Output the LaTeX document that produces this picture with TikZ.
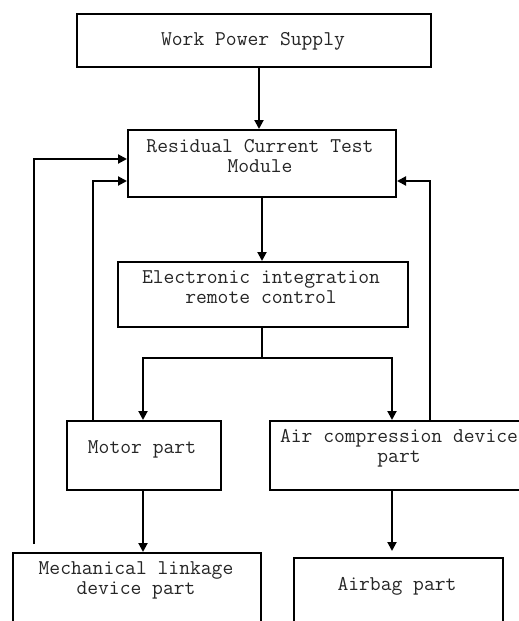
\documentclass[tikz,border=0pt]{standalone}
\usepackage{fontspec}
\usetikzlibrary{arrows.meta}
\newcommand{\diagmono}{\ttfamily\addfontfeatures{FakeBold=0.6}}
\tikzset{
  boxnode/.style={draw=black, line width=2pt, rectangle, inner sep=0pt},
  lbl/.style={inner sep=0pt, anchor=base, align=center, text=black!85,
    font=\fontsize{21}{19.5}\selectfont\diagmono},
  conn/.style={draw=black, line width=2pt},
  arr/.style={conn, -{Triangle[length=9pt,width=9pt]}},
}
\begin{document}
\begin{tikzpicture}[x=1pt,y=-1pt]
\useasboundingbox (0,0) rectangle (519,621);
\clip (0,0) rectangle (519,621);
\fill[white] (0,0) rectangle (519,621);
% boxes
\node[boxnode, minimum width=354pt, minimum height=53pt] (wps) at (254,40.5) {};
\node[boxnode, minimum width=268pt, minimum height=67pt] (rct) at (262,163.5) {};
\node[boxnode, minimum width=290pt, minimum height=65pt] (eic) at (263,294.5) {};
\node[boxnode, minimum width=154pt, minimum height=69pt] (motor) at (144,455.5) {};
\node[boxnode, minimum width=260pt, minimum height=69pt] (air) at (400,455.5) {};
\node[boxnode, minimum width=248pt, minimum height=80pt] (mech) at (137,593) {};
\node[boxnode, minimum width=209pt, minimum height=80pt] (airbag) at (398.5,598) {};
% labels (base = baseline of the last line)
\node[lbl] (twps) at (253,45) {Work Power Supply};
\node[lbl] (trct) at (260,172) {Residual Current Test\\Module};
\node[lbl] (teic) at (261,303) {Electronic integration\\remote control};
\node[lbl] (tmotor) at (142,453) {Motor part};
\node[lbl] (tair) at (399,462) {Air compression device\\part};
\node[lbl] (tmech) at (136,594) {Mechanical linkage\\device part};
\node[lbl] (tairbag) at (397,590) {Airbag part};
% coordinates
\coordinate (split) at (262,358);
\coordinate (outer) at (34,544);
% connectors
\draw[arr] (wps.south -| 259,0) -- (rct.north -| 259,0);
\draw[arr] (rct.south -| 262,0) -- (eic.north -| 262,0);
\draw[conn] (eic.south -| split) -- (split);
\draw[arr] (split) -- (split -| 143,0) -- (motor.north -| 143,0);
\draw[arr] (split) -- (split -| 392,0) -- (air.north -| 392,0);
\draw[arr] (motor.north -| 93,0) -- (93,181) -- (rct.west |- 0,181);
\draw[arr] (outer) -- (34,159) -- (rct.west |- 0,159);
\draw[arr] (air.north -| 430,0) -- (430,181) -- (rct.east |- 0,181);
\draw[arr] (motor.south -| 143,0) -- (mech.north -| 143,0);
\draw[arr, shorten >=6pt] (air.south -| 392,0) -- (airbag.north -| 392,0);
\end{tikzpicture}
\end{document}
